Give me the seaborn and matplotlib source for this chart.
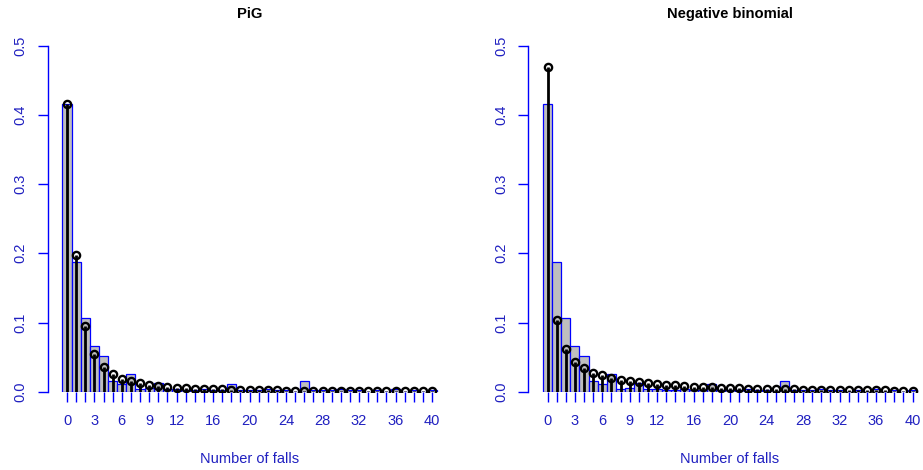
import numpy as np
import pandas as pd
import matplotlib
matplotlib.use("Agg")
import matplotlib.pyplot as plt
import seaborn as sns

# number of falls 0..40
falls = list(range(41))

# observed relative frequencies (bars)
observed = [0.416, 0.188, 0.107, 0.066, 0.051, 0.015, 0.011, 0.026, 0.004, 0.006,
            0.013, 0.004, 0.004, 0.002, 0.002, 0.004, 0.002, 0.002, 0.011, 0.002,
            0.002, 0.002, 0.004, 0.002, 0.002, 0.000, 0.015, 0.002, 0.002, 0.002,
            0.004, 0.002, 0.002, 0.000, 0.002, 0.000, 0.004, 0.000, 0.002, 0.000,
            0.002]

# fitted Poisson-inverse Gaussian probabilities
pig = [0.416, 0.197, 0.095, 0.0545, 0.036, 0.0256, 0.019, 0.015, 0.012, 0.0097,
       0.0082, 0.007, 0.006, 0.0052, 0.0046, 0.004, 0.0036, 0.0032, 0.0029, 0.0026,
       0.0023, 0.0021, 0.0019, 0.0018, 0.0016, 0.0015, 0.0014, 0.0013, 0.0012, 0.0011,
       0.001, 0.0009, 0.0009, 0.0008, 0.0008, 0.0007, 0.0007, 0.0006, 0.0006, 0.0005,
       0.0005]

# fitted negative binomial probabilities
negbin = [0.469, 0.103, 0.061, 0.0435, 0.034, 0.0275, 0.0237, 0.020, 0.017, 0.015,
          0.0136, 0.012, 0.011, 0.0098, 0.009, 0.0082, 0.0075, 0.0068, 0.0062, 0.0057,
          0.0052, 0.0048, 0.0045, 0.0042, 0.0039, 0.0036, 0.0034, 0.0032, 0.003, 0.0028,
          0.0026, 0.0025, 0.0023, 0.0022, 0.0021, 0.002, 0.0019, 0.0018, 0.0017, 0.0016,
          0.0015]

titles = ["PiG", "Negative binomial"]
xlabels_shown = [0, 3, 6, 9, 12, 16, 20, 24, 28, 32, 36, 40]
yticks = [0.0, 0.1, 0.2, 0.3, 0.4, 0.5]

df = pd.DataFrame({"falls": falls, "observed": observed, "pig": pig, "negbin": negbin})

sns.set_style("white")
plt.rcParams["font.family"] = ["Liberation Sans", "DejaVu Sans"]

W, H = 923, 470
fig = plt.figure(figsize=(W / 100, H / 100), dpi=100)

txt_blue = "#2020C0"
y0_px = 391.7
px_per_unit = 692.0
top_px = y0_px - 0.52 * px_per_unit
ax_w = 44.28 * 9.125

for left_px, fitted, title in [(47.5, "pig", titles[0]), (528.0, "negbin", titles[1])]:
    ax = fig.add_axes([left_px / W, (H - y0_px) / H, ax_w / W, (y0_px - top_px) / H])
    sns.barplot(data=df, x="falls", y="observed", native_scale=True, width=1,
                color="#BEBEBE", saturation=1, edgecolor="blue", linewidth=0.9, ax=ax)
    ax.vlines(df["falls"], 0, df[fitted], color="black", linewidth=2, zorder=3)
    ax.plot(df["falls"], df[fitted], "o", markersize=5.2, markerfacecolor="none",
            markeredgecolor="black", markeredgewidth=1.7, zorder=4)

    ax.set_xlim(-2.14, 42.14)
    ax.set_ylim(0, 0.52)
    for s in ["top", "right", "bottom"]:
        ax.spines[s].set_visible(False)
    ax.spines["left"].set_bounds(0, 0.5)
    ax.spines["left"].set_color("blue")
    ax.spines["left"].set_linewidth(1)

    ax.set_xticks(falls)
    ax.set_xticklabels([str(f) if f in xlabels_shown else "" for f in falls])
    ax.set_yticks(yticks)
    ax.set_yticklabels([f"{v:.1f}" for v in yticks], rotation=90, va="center")
    ax.tick_params(axis="both", direction="out", length=7.2, width=1, color="blue",
                   labelcolor=txt_blue, labelsize=10.5, bottom=True, left=True)
    ax.tick_params(axis="x", pad=9)
    ax.tick_params(axis="y", pad=7)

    ax.set_xlabel("Number of falls", color=txt_blue, fontsize=10.5, labelpad=17)
    ax.set_ylabel("")
    ax.set_title(title, fontweight="bold", fontsize=10.6, color="black", pad=10)

fig.savefig("out.png", dpi=100)
